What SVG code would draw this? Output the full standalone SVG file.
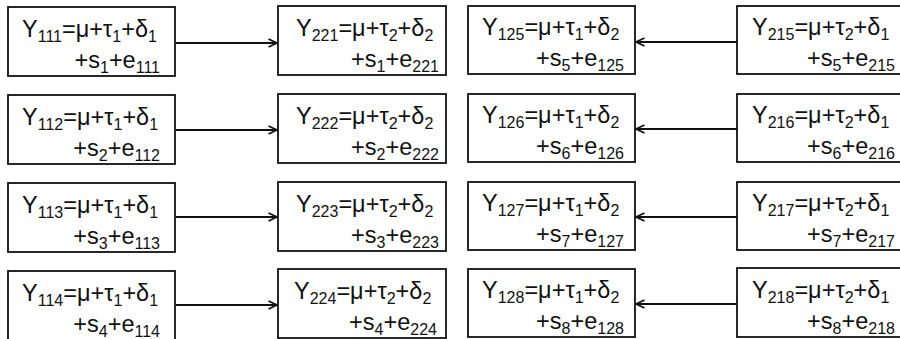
<svg xmlns="http://www.w3.org/2000/svg" width="900" height="339" viewBox="0 0 900 339">
<style>
.box{fill:#fff;stroke:#111;stroke-width:1.8}
.t{font-family:"Liberation Sans",Arial,sans-serif;font-size:23.5px;fill:#111}
.s{font-size:16px}
.e{text-anchor:end}
.c{stroke:#111;stroke-width:2;fill:none}
</style>
<defs>
<marker id="ah" viewBox="0 0 12 12" refX="10.5" refY="6" markerWidth="12" markerHeight="12" markerUnits="userSpaceOnUse" orient="auto">
<path d="M2,2 L10.5,6 L2,10" fill="none" stroke="#111" stroke-width="1.8"/>
</marker>
</defs>
<rect width="900" height="339" fill="#fff"/>
<g id="connectors">
<line class="c" x1="176" y1="43" x2="277" y2="43" marker-end="url(#ah)"/>
<line class="c" x1="176" y1="130" x2="277" y2="130" marker-end="url(#ah)"/>
<line class="c" x1="176" y1="217" x2="277" y2="217" marker-end="url(#ah)"/>
<line class="c" x1="176" y1="305" x2="277" y2="305" marker-end="url(#ah)"/>
<line class="c" x1="737" y1="42" x2="636" y2="42" marker-end="url(#ah)"/>
<line class="c" x1="737" y1="129" x2="636" y2="129" marker-end="url(#ah)"/>
<line class="c" x1="737" y1="217" x2="636" y2="217" marker-end="url(#ah)"/>
<line class="c" x1="737" y1="304" x2="636" y2="304" marker-end="url(#ah)"/>
</g>
<g id="n111"><rect class="box" x="8" y="7" width="167" height="69"/>
<text class="t" x="22" y="37">Y<tspan class="s" dy="5">111</tspan><tspan dy="-5">=μ+τ</tspan><tspan class="s" dy="5">1</tspan><tspan dy="-5">+δ</tspan><tspan class="s" dy="5">1</tspan></text>
<text class="t e" x="160" y="68">+s<tspan class="s" dy="5">1</tspan><tspan dy="-5">+e</tspan><tspan class="s" dy="5">111</tspan></text></g>
<g id="n112"><rect class="box" x="8" y="95" width="167" height="69"/>
<text class="t" x="22" y="125">Y<tspan class="s" dy="5">112</tspan><tspan dy="-5">=μ+τ</tspan><tspan class="s" dy="5">1</tspan><tspan dy="-5">+δ</tspan><tspan class="s" dy="5">1</tspan></text>
<text class="t e" x="160" y="156">+s<tspan class="s" dy="5">2</tspan><tspan dy="-5">+e</tspan><tspan class="s" dy="5">112</tspan></text></g>
<g id="n113"><rect class="box" x="8" y="183" width="167" height="69"/>
<text class="t" x="22" y="213">Y<tspan class="s" dy="5">113</tspan><tspan dy="-5">=μ+τ</tspan><tspan class="s" dy="5">1</tspan><tspan dy="-5">+δ</tspan><tspan class="s" dy="5">1</tspan></text>
<text class="t e" x="160" y="244">+s<tspan class="s" dy="5">3</tspan><tspan dy="-5">+e</tspan><tspan class="s" dy="5">113</tspan></text></g>
<g id="n114"><rect class="box" x="8" y="271" width="167" height="69"/>
<text class="t" x="22" y="301">Y<tspan class="s" dy="5">114</tspan><tspan dy="-5">=μ+τ</tspan><tspan class="s" dy="5">1</tspan><tspan dy="-5">+δ</tspan><tspan class="s" dy="5">1</tspan></text>
<text class="t e" x="160" y="332">+s<tspan class="s" dy="5">4</tspan><tspan dy="-5">+e</tspan><tspan class="s" dy="5">114</tspan></text></g>
<g id="n221"><rect class="box" x="278" y="6" width="168" height="69"/>
<text class="t" x="296" y="36">Y<tspan class="s" dy="5">221</tspan><tspan dy="-5">=μ+τ</tspan><tspan class="s" dy="5">2</tspan><tspan dy="-5">+δ</tspan><tspan class="s" dy="5">2</tspan></text>
<text class="t e" x="439" y="67">+s<tspan class="s" dy="5">1</tspan><tspan dy="-5">+e</tspan><tspan class="s" dy="5">221</tspan></text></g>
<g id="n222"><rect class="box" x="278" y="94" width="168" height="69"/>
<text class="t" x="296" y="124">Y<tspan class="s" dy="5">222</tspan><tspan dy="-5">=μ+τ</tspan><tspan class="s" dy="5">2</tspan><tspan dy="-5">+δ</tspan><tspan class="s" dy="5">2</tspan></text>
<text class="t e" x="439" y="155">+s<tspan class="s" dy="5">2</tspan><tspan dy="-5">+e</tspan><tspan class="s" dy="5">222</tspan></text></g>
<g id="n223"><rect class="box" x="278" y="182" width="168" height="69"/>
<text class="t" x="296" y="212">Y<tspan class="s" dy="5">223</tspan><tspan dy="-5">=μ+τ</tspan><tspan class="s" dy="5">2</tspan><tspan dy="-5">+δ</tspan><tspan class="s" dy="5">2</tspan></text>
<text class="t e" x="439" y="243">+s<tspan class="s" dy="5">3</tspan><tspan dy="-5">+e</tspan><tspan class="s" dy="5">223</tspan></text></g>
<g id="n224"><rect class="box" x="278" y="269" width="168" height="69"/>
<text class="t" x="294" y="299">Y<tspan class="s" dy="5">224</tspan><tspan dy="-5">=μ+τ</tspan><tspan class="s" dy="5">2</tspan><tspan dy="-5">+δ</tspan><tspan class="s" dy="5">2</tspan></text>
<text class="t e" x="437" y="330">+s<tspan class="s" dy="5">4</tspan><tspan dy="-5">+e</tspan><tspan class="s" dy="5">224</tspan></text></g>
<g id="n125"><rect class="box" x="468" y="6" width="167" height="68"/>
<text class="t" x="482" y="35">Y<tspan class="s" dy="5">125</tspan><tspan dy="-5">=μ+τ</tspan><tspan class="s" dy="5">1</tspan><tspan dy="-5">+δ</tspan><tspan class="s" dy="5">2</tspan></text>
<text class="t e" x="624" y="66">+s<tspan class="s" dy="5">5</tspan><tspan dy="-5">+e</tspan><tspan class="s" dy="5">125</tspan></text></g>
<g id="n126"><rect class="box" x="468" y="94" width="167" height="68"/>
<text class="t" x="482" y="123">Y<tspan class="s" dy="5">126</tspan><tspan dy="-5">=μ+τ</tspan><tspan class="s" dy="5">1</tspan><tspan dy="-5">+δ</tspan><tspan class="s" dy="5">2</tspan></text>
<text class="t e" x="624" y="154">+s<tspan class="s" dy="5">6</tspan><tspan dy="-5">+e</tspan><tspan class="s" dy="5">126</tspan></text></g>
<g id="n127"><rect class="box" x="468" y="182" width="167" height="68"/>
<text class="t" x="482" y="211">Y<tspan class="s" dy="5">127</tspan><tspan dy="-5">=μ+τ</tspan><tspan class="s" dy="5">1</tspan><tspan dy="-5">+δ</tspan><tspan class="s" dy="5">2</tspan></text>
<text class="t e" x="624" y="242">+s<tspan class="s" dy="5">7</tspan><tspan dy="-5">+e</tspan><tspan class="s" dy="5">127</tspan></text></g>
<g id="n128"><rect class="box" x="468" y="269" width="167" height="68"/>
<text class="t" x="482" y="298">Y<tspan class="s" dy="5">128</tspan><tspan dy="-5">=μ+τ</tspan><tspan class="s" dy="5">1</tspan><tspan dy="-5">+δ</tspan><tspan class="s" dy="5">2</tspan></text>
<text class="t e" x="624" y="329">+s<tspan class="s" dy="5">8</tspan><tspan dy="-5">+e</tspan><tspan class="s" dy="5">128</tspan></text></g>
<g id="n215"><rect class="box" x="737" y="6" width="168" height="68"/>
<text class="t" x="752" y="35">Y<tspan class="s" dy="5">215</tspan><tspan dy="-5">=μ+τ</tspan><tspan class="s" dy="5">2</tspan><tspan dy="-5">+δ</tspan><tspan class="s" dy="5">1</tspan></text>
<text class="t e" x="895" y="66">+s<tspan class="s" dy="5">5</tspan><tspan dy="-5">+e</tspan><tspan class="s" dy="5">215</tspan></text></g>
<g id="n216"><rect class="box" x="737" y="94" width="168" height="68"/>
<text class="t" x="752" y="123">Y<tspan class="s" dy="5">216</tspan><tspan dy="-5">=μ+τ</tspan><tspan class="s" dy="5">2</tspan><tspan dy="-5">+δ</tspan><tspan class="s" dy="5">1</tspan></text>
<text class="t e" x="895" y="154">+s<tspan class="s" dy="5">6</tspan><tspan dy="-5">+e</tspan><tspan class="s" dy="5">216</tspan></text></g>
<g id="n217"><rect class="box" x="737" y="182" width="168" height="68"/>
<text class="t" x="752" y="211">Y<tspan class="s" dy="5">217</tspan><tspan dy="-5">=μ+τ</tspan><tspan class="s" dy="5">2</tspan><tspan dy="-5">+δ</tspan><tspan class="s" dy="5">1</tspan></text>
<text class="t e" x="895" y="242">+s<tspan class="s" dy="5">7</tspan><tspan dy="-5">+e</tspan><tspan class="s" dy="5">217</tspan></text></g>
<g id="n218"><rect class="box" x="737" y="268" width="168" height="69"/>
<text class="t" x="752" y="298">Y<tspan class="s" dy="5">218</tspan><tspan dy="-5">=μ+τ</tspan><tspan class="s" dy="5">2</tspan><tspan dy="-5">+δ</tspan><tspan class="s" dy="5">1</tspan></text>
<text class="t e" x="895" y="329">+s<tspan class="s" dy="5">8</tspan><tspan dy="-5">+e</tspan><tspan class="s" dy="5">218</tspan></text></g>
</svg>
